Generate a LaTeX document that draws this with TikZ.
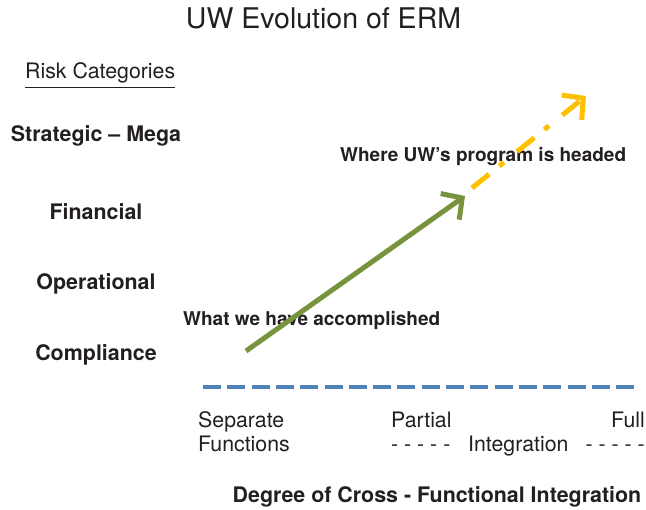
\documentclass[tikz,border=0pt]{standalone}
\usepackage{fontspec}
\setmainfont{TeX Gyre Heros}
\usetikzlibrary{arrows.meta}

\definecolor{ink}{HTML}{231F20}
\definecolor{olive}{HTML}{77933C}
\definecolor{amber}{HTML}{FFC000}
\definecolor{steel}{HTML}{4F81BD}

\begin{document}
\begin{tikzpicture}[x=1pt,y=-1pt]
        \tikzstyle{every node}=[inner sep=0pt, text=ink, font=\fontsize{21.3}{25}\selectfont]
        \tikzstyle{cat}=[font=\fontsize{21.4}{25}\selectfont\bfseries]
        \tikzstyle{note}=[font=\fontsize{19}{23}\selectfont\bfseries]
        \useasboundingbox (0,0) rectangle (646,510);

        \node[anchor=base] (title) at (323.5,28.5) {\fontsize{28.5}{32}\selectfont UW Evolution of ERM};
        \node[anchor=base west] (risk) at (25,79) {Risk Categories};
        \draw[ink, line width=1.6pt] ([yshift=-8.5pt]risk.base west) -- ([yshift=-8.5pt]risk.base east);

        \node[cat, anchor=base] (strat) at (96,142) {Strategic -- Mega};
        \node[cat, anchor=base] (fin)   at (96,220) {Financial};
        \node[cat, anchor=base] (oper)  at (96,290) {Operational};
        \node[cat, anchor=base] (comp)  at (96,361) {Compliance};

        \node[note, anchor=base west] (done) at (183,325.5) {What we have accomplished};
        \node[note, anchor=base west] (goal) at (340,161.5) {Where UW's program is headed};

        \node[anchor=base west] (sep)   at (198,427.5) {Separate};
        \node[anchor=base west] (func)  at (198,452)   {Functions};
        \node[anchor=base west] (part)  at (391,427.5) {Partial};
        \node[anchor=base west] (dl)    at (391,452)   {- - - - -};
        \node[anchor=base west] (integ) at (468,452)   {Integration};
        \node[anchor=base east] (dr)    at (645,452)   {- - - - -};
        \node[anchor=base east] (full)  at (645,427.5) {Full};
        \node[cat, anchor=base] (axis)  at (437,503)   {Degree of Cross - Functional Integration};

        \coordinate (g0) at (246,351);
        \coordinate (g1) at (465,196);
        \coordinate (y0) at (472,188);
        \coordinate (y1) at (586,96);
        \coordinate (b0) at (203,387);
        \coordinate (b1) at (637,387);

        \tikzstyle{edge}=[line width=5pt, -{Straight Barb[length=15pt, width=32pt]}]
        \draw[edge, olive] (g0) -- (g1);
        \draw[edge, amber, dash pattern=on 22pt off 13pt on 6pt off 17pt] (y0) -- (y1);

        \tikzstyle{edge}=[steel, line width=4.3pt, dash pattern=on 18pt off 6.3pt]
        \draw[edge] (b0) -- (b1);
\end{tikzpicture}
\end{document}
